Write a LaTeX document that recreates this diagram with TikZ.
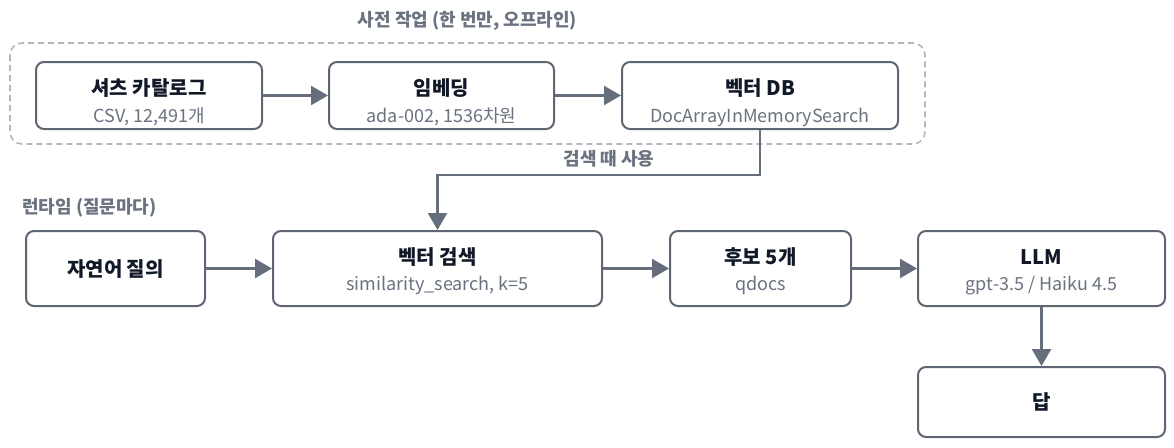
\documentclass[tikz,border=0pt]{standalone}
\usepackage{fontspec}
\setmainfont{Noto Sans CJK KR}
\usetikzlibrary{arrows.meta}
\definecolor{boxc}{HTML}{5F6673}
\definecolor{arrc}{HTML}{676E7B}
\definecolor{titlec}{HTML}{111827}
\definecolor{subc}{HTML}{6B7280}
\definecolor{grpc}{HTML}{6B7280}
\definecolor{dashc}{HTML}{B3B7BF}
\tikzset{
  pbox/.style={draw=boxc, line width=2pt, rounded corners=8pt, fill=white, inner sep=0pt},
  ttltxt/.style={font=\bfseries\fontsize{20}{24}\selectfont, text=titlec, inner sep=0pt, text height=15pt, text depth=0pt},
  subtxt/.style={font=\fontsize{18}{21}\selectfont, text=subc, inner sep=0pt, text height=12.5pt, text depth=0pt},
  grptxt/.style={font=\bfseries\fontsize{18}{21}\selectfont, text=grpc, inner sep=0pt, text height=13.5pt, text depth=0pt},
  arr/.style={draw=arrc, line width=2.5pt, -{Triangle[length=17pt,width=19pt]}},
  grpframe/.style={draw=dashc, line width=1.6pt, dash pattern=on 6pt off 4pt, rounded corners=12pt},
}
\begin{document}
\begin{tikzpicture}[x=1pt,y=-1pt]
\useasboundingbox (0,0) rectangle (1174,447);
% offline group
\draw[grpframe] (10,43) rectangle (925,144);
\node[grptxt] (gtitle) at (467.5,20) {사전 작업 (한 번만, 오프라인)};
\node[grptxt, anchor=west] (rtitle) at (22,207) {런타임 (질문마다)};
% row 1
\node[pbox, minimum width=226pt, minimum height=67pt] (cat) at (149,95.5) {};
\node[ttltxt] (catt) at (149,88) {셔츠 카탈로그};
\node[subtxt] (cats) at (149,116.5) {CSV, 12,491개};
\node[pbox, minimum width=225pt, minimum height=67pt] (emb) at (441.5,95.5) {};
\node[ttltxt] (embt) at (441.5,88) {임베딩};
\node[subtxt] (embs) at (441.5,116.5) {ada-002, 1536차원};
\node[pbox, minimum width=276pt, minimum height=67pt] (db) at (760,95.5) {};
\node[ttltxt] (dbt) at (760,88) {벡터 DB};
\node[subtxt] (dbs) at (760,116.5) {DocArrayInMemorySearch};
% row 2
\node[pbox, minimum width=179pt, minimum height=75pt] (q) at (115.5,268.5) {};
\node[ttltxt] (qt) at (115.5,268.5) {자연어 질의};
\node[pbox, minimum width=329pt, minimum height=75pt] (srch) at (437.5,268.5) {};
\node[ttltxt] (srcht) at (437.5,257) {벡터 검색};
\node[subtxt] (srchs) at (437.5,284) {similarity\_search, k=5};
\node[pbox, minimum width=181pt, minimum height=75pt] (cand) at (760.5,268.5) {};
\node[ttltxt] (candt) at (760.5,257) {후보 5개};
\node[subtxt] (cands) at (760.5,284) {qdocs};
\node[pbox, minimum width=247pt, minimum height=75pt] (llm) at (1041.5,268.5) {};
\node[ttltxt] (llmt) at (1041.5,257) {LLM};
\node[subtxt] (llms) at (1041.5,284) {gpt-3.5 / Haiku 4.5};
\node[pbox, minimum width=247pt, minimum height=70pt] (ans) at (1041.5,402) {};
\node[ttltxt] (anst) at (1041.5,402) {답};
% connectors
\draw[arr] (cat.east) -- (emb.west);
\draw[arr] (emb.east) -- (db.west);
\draw[arr] (db.south) -- ++(0,45) -| (srch.north);
\node[grptxt] (uselbl) at (609,159) {검색 때 사용};
\draw[arr] (q.east) -- (srch.west);
\draw[arr] (srch.east) -- (cand.west);
\draw[arr] (cand.east) -- (llm.west);
\draw[arr] (llm.south) -- (ans.north);
\end{tikzpicture}
\end{document}
